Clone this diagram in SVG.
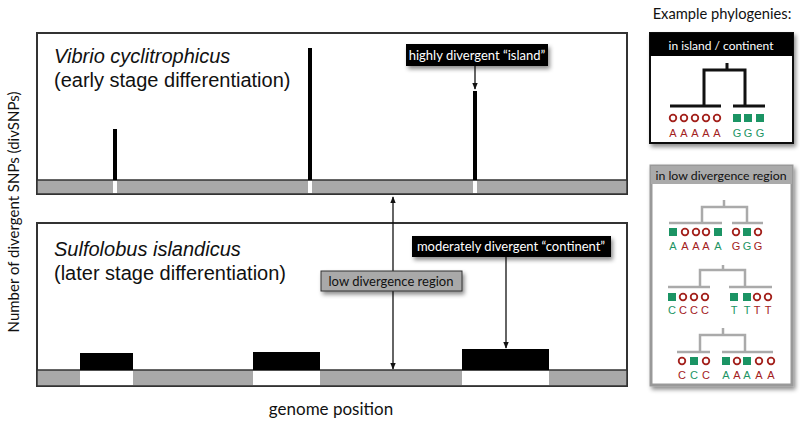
<svg xmlns="http://www.w3.org/2000/svg" width="800" height="427" viewBox="0 0 800 427">
<style>
.panel{fill:#fff;stroke:#333;stroke-width:2}
.bar{fill:#a9a9a9;stroke:#333;stroke-width:1.5}
.sp{font-family:"Liberation Sans",Arial,sans-serif;font-size:20px;fill:#111}
.gs{font-family:Lato,"Open Sans",sans-serif}
.lab{font-family:Lato,"Open Sans",sans-serif;font-size:13px}
.conn{stroke:#111;stroke-width:1.3;fill:none}
.tb{stroke:#111;stroke-width:3;fill:none}
.tg{stroke:#aaa;stroke-width:2.5;fill:none}
.c{fill:#fff;stroke:#a3211c;stroke-width:1.8}
.s{fill:#1b9464}
.lt{font-family:"Liberation Sans",Arial,sans-serif;font-size:11px;text-anchor:middle}
.r{fill:#a3211c}
.g{fill:#1b9464}
</style>
<defs>
<marker id="ah" viewBox="0 0 10 10" refX="9" refY="5" markerWidth="7" markerHeight="7" orient="auto-start-reverse" markerUnits="userSpaceOnUse"><path d="M0,1 L10,5 L0,9 z" fill="#111"/></marker>
<filter id="sh" x="-10%" y="-20%" width="130%" height="160%"><feDropShadow dx="2" dy="3" stdDeviation="2" flood-color="#000" flood-opacity="0.45"/></filter>
</defs>

<g id="axis-y"><text class="gs" font-size="15" fill="#111" text-anchor="middle" transform="translate(19,212) rotate(-90)">Number of divergent SNPs (divSNPs)</text></g>
<g id="axis-x"><text class="gs" x="331" y="415" font-size="17" fill="#111" text-anchor="middle">genome position</text></g>

<g id="panel-vibrio">
<rect class="panel" x="37" y="33" width="590" height="161"/>
<rect class="bar" x="37" y="180" width="590" height="14"/>
<rect x="113" y="181" width="4" height="12" fill="#fff"/>
<rect x="308" y="181" width="4" height="12" fill="#fff"/>
<rect x="473" y="181" width="4" height="12" fill="#fff"/>
<rect x="113" y="129" width="4" height="51" fill="#000"/>
<rect x="308" y="48" width="4" height="132" fill="#000"/>
<rect x="473" y="91" width="4" height="89" fill="#000"/>
<text class="sp" x="54" y="63" font-style="italic">Vibrio cyclitrophicus</text>
<text class="sp" x="54" y="87">(early stage differentiation)</text>
</g>

<g id="panel-sulfolobus">
<rect class="panel" x="37" y="223" width="590" height="163"/>
<rect class="bar" x="37" y="370" width="590" height="16"/>
<rect x="80" y="371" width="53" height="14" fill="#fff"/>
<rect x="253" y="371" width="67" height="14" fill="#fff"/>
<rect x="462" y="371" width="87" height="14" fill="#fff"/>
<rect x="80" y="353" width="53" height="17" fill="#000"/>
<rect x="253" y="352" width="67" height="18" fill="#000"/>
<rect x="462" y="349" width="87" height="21" fill="#000"/>
<text class="sp" x="54" y="256" font-style="italic">Sulfolobus islandicus</text>
<text class="sp" x="54" y="280">(later stage differentiation)</text>
</g>

<g id="connectors">
<line class="conn" x1="393" y1="197" x2="393" y2="369" marker-start="url(#ah)" marker-end="url(#ah)"/>
<line class="conn" x1="475" y1="66" x2="475" y2="89" marker-end="url(#ah)"/>
<line class="conn" x1="506" y1="257" x2="506" y2="348" marker-end="url(#ah)"/>
</g>

<g id="label-island">
<rect x="406" y="44" width="142" height="22" fill="#000" filter="url(#sh)"/>
<text class="lab" x="477" y="60" fill="#fff" text-anchor="middle">highly divergent “island”</text>
</g>
<g id="label-continent">
<rect x="412" y="236" width="199" height="21" fill="#000" filter="url(#sh)"/>
<text class="lab" x="511" y="251" fill="#fff" text-anchor="middle">moderately divergent “continent”</text>
</g>
<g id="label-low">
<rect x="321" y="271" width="141" height="20" fill="#a9a9a9" stroke="#333" stroke-width="1" filter="url(#sh)"/>
<text class="lab" x="391" y="286" fill="#111" text-anchor="middle">low divergence region</text>
</g>

<g id="title-phylo"><text class="gs" x="722" y="19" font-size="14.7" fill="#111" text-anchor="middle">Example phylogenies:</text></g>

<g id="box-island">
<rect x="650" y="33" width="143" height="110" fill="#fff" stroke="#111" stroke-width="2" filter="url(#sh)"/>
<rect x="650" y="33" width="143" height="23" fill="#000"/>
<text class="gs" x="721" y="50" font-size="12" fill="#fff" text-anchor="middle">in island / continent</text>
<path class="tb" d="M727,63 V70 M704,106 V70 H745 V106 M670,106 H721 M733,106 H765"/>
<circle class="c" cx="673" cy="118" r="3.3"/><circle class="c" cx="684" cy="118" r="3.3"/><circle class="c" cx="695" cy="118" r="3.3"/><circle class="c" cx="706" cy="118" r="3.3"/><circle class="c" cx="717" cy="118" r="3.3"/>
<rect class="s" x="733" y="114" width="8" height="8"/><rect class="s" x="744" y="114" width="8" height="8"/><rect class="s" x="756" y="114" width="8" height="8"/>
<g class="lt"><text class="r" x="673" y="137">A</text><text class="r" x="684" y="137">A</text><text class="r" x="695" y="137">A</text><text class="r" x="706" y="137">A</text><text class="r" x="717" y="137">A</text><text class="g" x="737" y="137">G</text><text class="g" x="748" y="137">G</text><text class="g" x="760" y="137">G</text></g>
</g>

<g id="box-low">
<rect x="651" y="166" width="141" height="219" fill="#fff" stroke="#999" stroke-width="3" filter="url(#sh)"/>
<rect x="651" y="166" width="141" height="18" fill="#aaa"/>
<text class="gs" x="721" y="180" font-size="12.3" fill="#111" text-anchor="middle">in low divergence region</text>
<path class="tg" d="M724,200 V207 M702,223 V207 H747 V223 M669,223 H722 M732,223 H763"/>
<rect class="s" x="669" y="228" width="8" height="8"/><circle class="c" cx="685" cy="232" r="3.3"/><circle class="c" cx="696" cy="232" r="3.3"/><circle class="c" cx="706" cy="232" r="3.3"/><rect class="s" x="714" y="228" width="8" height="8"/>
<circle class="c" cx="736" cy="232" r="3.3"/><rect class="s" x="743" y="228" width="8" height="8"/><circle class="c" cx="758" cy="232" r="3.3"/>
<g class="lt"><text class="g" x="673" y="250">A</text><text class="r" x="685" y="250">A</text><text class="r" x="696" y="250">A</text><text class="r" x="706" y="250">A</text><text class="g" x="718" y="250">A</text><text class="r" x="736" y="250">G</text><text class="g" x="747" y="250">G</text><text class="r" x="758" y="250">G</text></g>

<path class="tg" d="M723,265 V270 M700,287 V270 H745 V287 M668,287 H710 M729,287 H772"/>
<rect class="s" x="668" y="293" width="8" height="8"/><circle class="c" cx="683" cy="297" r="3.3"/><circle class="c" cx="694" cy="297" r="3.3"/><circle class="c" cx="705" cy="297" r="3.3"/>
<rect class="s" x="730" y="293" width="8" height="8"/><rect class="s" x="743" y="293" width="8" height="8"/><circle class="c" cx="757" cy="297" r="3.3"/><circle class="c" cx="768" cy="297" r="3.3"/>
<g class="lt"><text class="g" x="672" y="314">C</text><text class="r" x="683" y="314">C</text><text class="r" x="694" y="314">C</text><text class="r" x="705" y="314">C</text><text class="g" x="734" y="314">T</text><text class="g" x="747" y="314">T</text><text class="r" x="757" y="314">T</text><text class="r" x="768" y="314">T</text></g>

<path class="tg" d="M723,328 V335 M700,352 V335 H745 V352 M677,352 H710 M722,352 H773"/>
<circle class="c" cx="682" cy="361" r="3.3"/><rect class="s" x="690" y="357" width="8" height="8"/><circle class="c" cx="706" cy="361" r="3.3"/>
<rect class="s" x="722" y="357" width="8" height="8"/><circle class="c" cx="737" cy="361" r="3.3"/><rect class="s" x="743" y="357" width="8" height="8"/><circle class="c" cx="759" cy="361" r="3.3"/><circle class="c" cx="771" cy="361" r="3.3"/>
<g class="lt"><text class="r" x="682" y="379">C</text><text class="g" x="694" y="379">C</text><text class="r" x="706" y="379">C</text><text class="g" x="726" y="379">A</text><text class="r" x="737" y="379">A</text><text class="g" x="747" y="379">A</text><text class="r" x="759" y="379">A</text><text class="r" x="771" y="379">A</text></g>
</g>
</svg>
